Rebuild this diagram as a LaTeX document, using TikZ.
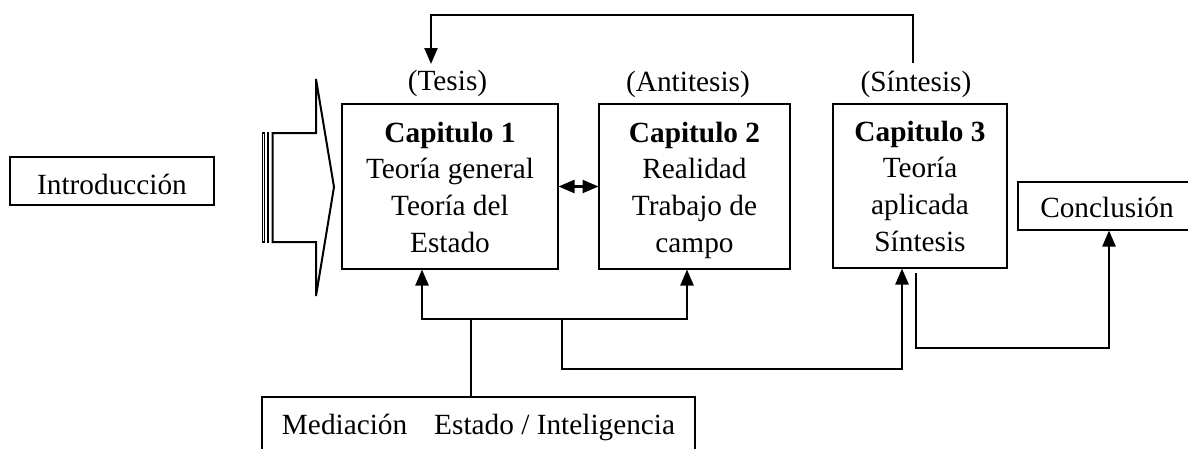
\documentclass[tikz,border=0pt]{standalone}
\usepackage{fontspec}
\setmainfont{Liberation Serif}
\usetikzlibrary{arrows.meta}
\begin{document}
\begin{tikzpicture}[x=1pt,y=-1pt,
  txt/.style={inner sep=0pt, outer sep=0pt, anchor=base, font=\fontsize{29.3}{36.7}\selectfont},
  frame/.style={draw, line width=2pt, inner sep=0pt, outer sep=0pt},
  conn/.style={line width=2.3pt},
  tip/.tip={Triangle[length=16pt,width=13pt]},
  arr/.style={line width=2.3pt, -tip, shorten >=0.5pt},
  darr/.style={line width=2.3pt, tip-tip, shorten >=0.5pt, shorten <=0.5pt},
  ]
\useasboundingbox (0,0) rectangle (1188,448);
\clip (0,0) rectangle (1188,448);

% boxes
\node[frame, minimum width=204pt, minimum height=48pt] (intro) at (112,181) {};
\node[frame, minimum width=216pt, minimum height=165pt] (c1) at (450,186.5) {};
\node[frame, minimum width=191pt, minimum height=165pt] (c2) at (694.5,186.5) {};
\node[frame, minimum width=174pt, minimum height=164pt] (c3) at (920,186) {};
\node[frame, minimum width=182pt, minimum height=48pt] (concl) at (1109,206) {};
\node[frame, minimum width=433pt, minimum height=83pt] (med) at (478.5,438.5) {};

% texts
\node[txt] (tintro) at (112,194) {Introducción};
\node[txt] (tconcl) at (1107,217) {Conclusión};
\node[txt] (tmed) at (478.5,434) {Mediación\hspace{27pt}Estado / Inteligencia};

\node[txt] (l1) at (447.5,90) {(Tesis)};
\node[txt] (l2) at (688,91) {(Antitesis)};
\node[txt] (l3) at (916,91) {(Síntesis)};

\node[txt] (c1a) at (450,142) {\textbf{Capitulo 1}};
\node[txt] (c1b) at (450,178.7) {Teoría general};
\node[txt] (c1c) at (450,215.4) {Teoría del};
\node[txt] (c1d) at (450,252) {Estado};

\node[txt] (c2a) at (694.5,142) {\textbf{Capitulo 2}};
\node[txt] (c2b) at (694.5,178.7) {Realidad};
\node[txt] (c2c) at (694.5,215.4) {Trabajo de};
\node[txt] (c2d) at (694.5,252) {campo};

\node[txt] (c3a) at (920,141) {\textbf{Capitulo 3}};
\node[txt] (c3b) at (920,177.7) {Teoría};
\node[txt] (c3c) at (920,214.4) {aplicada};
\node[txt] (c3d) at (920,251) {Síntesis};

% striped arrow
\draw[line width=1.6pt] (262.3,133) rectangle (264.6,242);
\draw[line width=1.3pt] (267.2,133) rectangle (268.2,242);
\draw[line width=2pt, line join=miter] (272.5,133) -- (316,133) -- (316,79) -- (334,187)
  -- (316,296) -- (316,242) -- (272.5,242) -- cycle;

% double arrow between chapter 1 and 2
\draw[darr] (c1.east) -- (c2.west);

% top feedback
\coordinate (t1) at (913,63);
\coordinate (t2) at (431,15);
\coordinate (t3) at (431,64);
\draw[line width=2.3pt, -tip] (t1) |- (t2) -- (t3);

% mediation connectors
\coordinate (m1) at (471,319);
\coordinate (a1) at (422,319);
\coordinate (a2) at (687,319);
\draw[conn] (med.north -| m1) -- (m1);
\draw[darr] (a1 |- c1.south) -- (a1) -- (a2) -- (a2 |- c2.south);

\coordinate (b1) at (562,319);
\coordinate (b2) at (562,369);
\coordinate (b3) at (902,369);
\draw[arr] (b1) -- (b2) -- (b3) -- (b3 |- c3.south);

% to conclusion
\coordinate (d1) at (916,273);
\coordinate (d2) at (1109,348);
\draw[arr] (d1) -- (d1 |- d2) -- (d2) -- (concl.south);
\end{tikzpicture}
\end{document}
